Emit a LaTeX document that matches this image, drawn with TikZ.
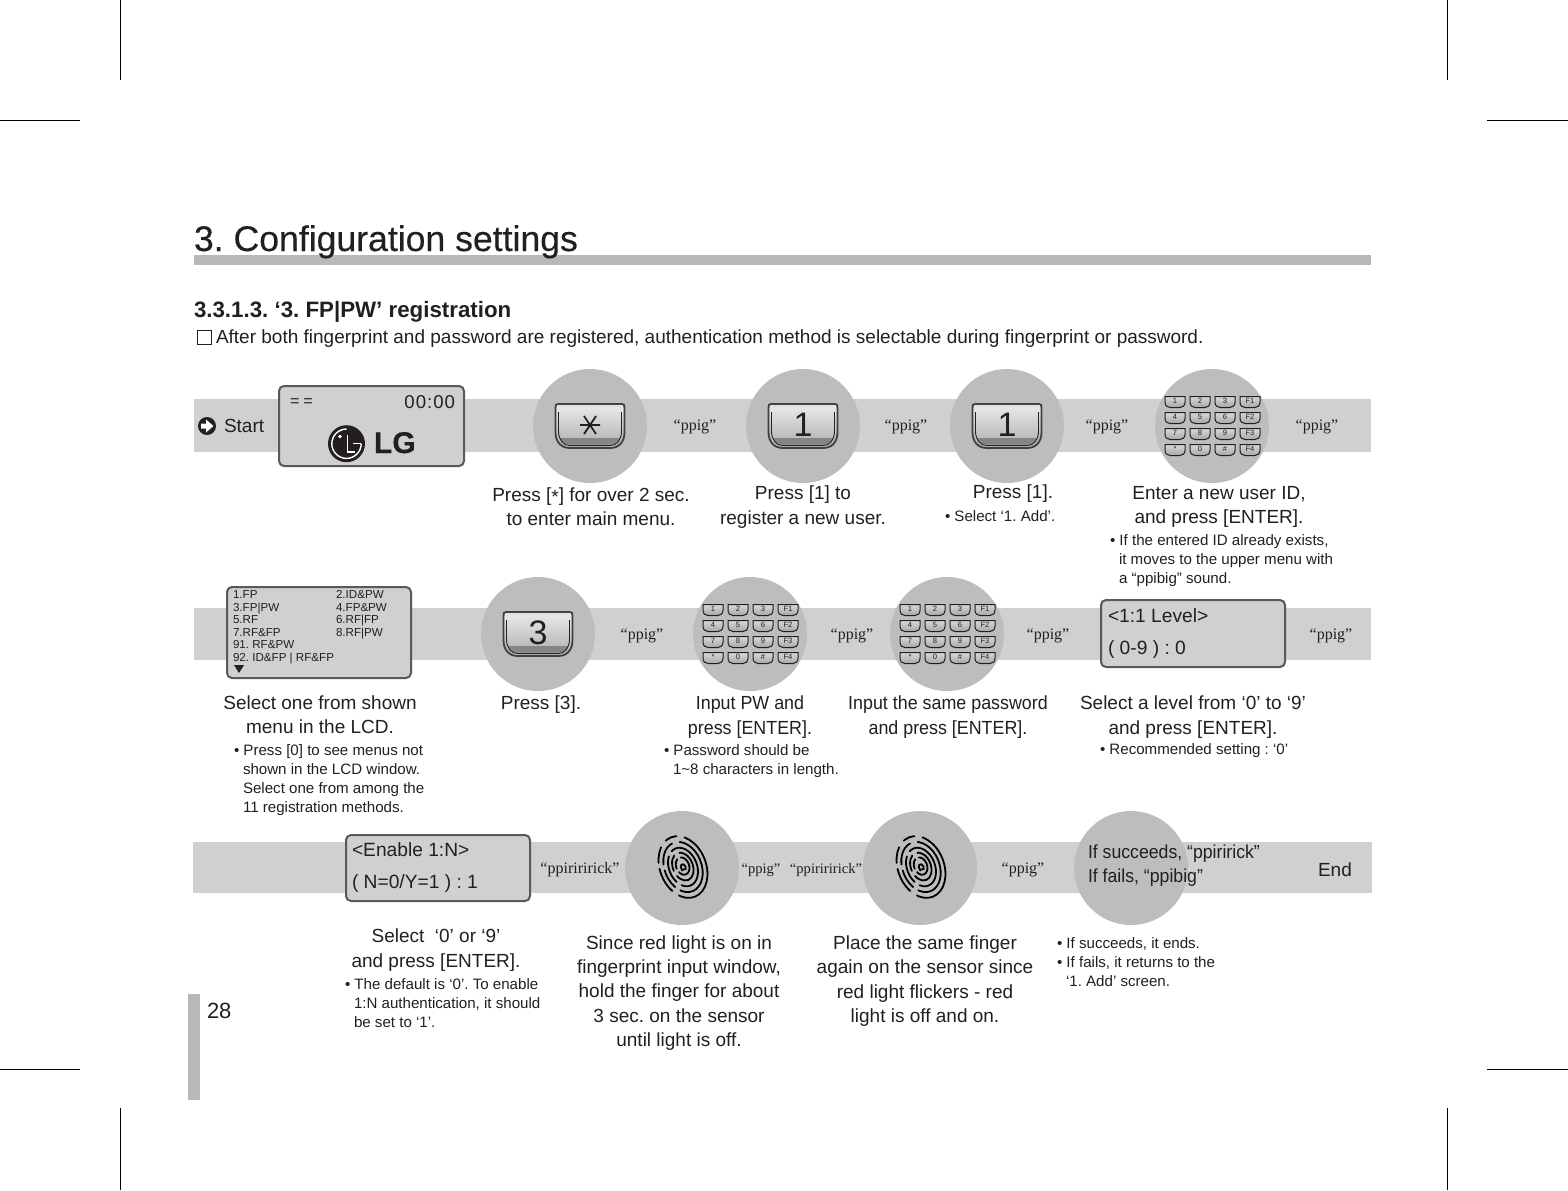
\documentclass[tikz,border=0pt]{standalone}
\usepackage{fontspec}
\setmainfont{Liberation Sans}
\newfontfamily\serifppig{Liberation Serif}
\newfontfamily\titlefont[FakeBold=0.3]{Liberation Sans}
\newfontfamily\condfont[FakeStretch=0.94]{Liberation Sans}
\newfontfamily\lgfont[BoldFeatures={FakeBold=0.5}]{Liberation Sans}
\definecolor{band}{HTML}{CFD0D2}
\definecolor{disc}{HTML}{BCBDBF}
\definecolor{titlebar}{HTML}{B7B8BA}
\definecolor{ink}{HTML}{231F20}
\definecolor{framec}{HTML}{58595B}
\tikzset{
  every node/.style={inner sep=0pt,outer sep=0pt,text=ink},
  bandrect/.style={fill=band,draw=none},
  discc/.style={fill=disc,draw=none},
  lcd/.style={fill=band,draw=framec,line width=1pt,rounded corners=2.5pt},
  crop/.style={draw=black,line width=0.4pt},
  main/.style={font=\fontsize{9.5}{12.1}\selectfont,align=center},
  mainc/.style={font=\condfont\fontsize{9.5}{12.1}\selectfont,align=center},
  mainl/.style={font=\condfont\fontsize{9.4}{12}\selectfont,align=left,anchor=west},
  small/.style={font=\fontsize{7.55}{9.5}\selectfont,align=left,anchor=west},
  lcdtxt/.style={font=\fontsize{5.8}{6.2}\selectfont,anchor=base west},
  lcdbig/.style={font=\fontsize{9.6}{12}\selectfont,anchor=west},
  ppig/.style={font=\serifppig\fontsize{8}{10}\selectfont},
  ppigs/.style={font=\serifppig\fontsize{7.3}{10}\selectfont},
  ridge/.style={draw=black,line width=0.9pt,line cap=round},
}
\newcommand{\keybody}{
    \draw[draw=black!75,line width=0.9pt,top color=black!8,bottom color=black!32]
      (-32,-22) -- (32,-22) .. controls (34,-22) and (34.5,-21) .. (34.5,-18) -- (34.5,6)
      .. controls (34.5,16) and (29,22) .. (20,22) -- (-20,22)
      .. controls (-29,22) and (-34.5,16) .. (-34.5,6) -- (-34.5,-18)
      .. controls (-34.5,-21) and (-34,-22) .. (-32,-22) -- cycle;
    \draw[draw=white!85!black,line width=0.5pt] (-31,-20) -- (31,-20);
    \fill[black!48] (-30,12) -- (30,12) .. controls (28,16) and (25,18.5) .. (20,18.5) -- (-20,18.5)
      .. controls (-25,18.5) and (-28,16) .. (-30,12) -- cycle;
    \draw[draw=ink,line width=0.45pt] (-31.5,-14) -- (-31.5,6) .. controls (-31,14) and (-27,19.5) .. (-20,19.5) -- (20,19.5) .. controls (27,19.5) and (31,14) .. (31.5,6) -- (31.5,-14);
}
\newcommand{\bigkey}[4]{% name,x,y,label
  \begin{scope}[shift={(#2,#3)}]
    \keybody
    \node (#1) at (0,-1) {\fontsize{17}{17}\selectfont #4};
  \end{scope}}
\newcommand{\starkey}[3]{% name,x,y
  \begin{scope}[shift={(#2,#3)}]
    \keybody
    \coordinate (#1) at (0,-1);
    \draw[ink,line width=0.9pt] (-10,-1)--(10,-1) (-6,-10)--(6,8) (6,-10)--(-6,8);
  \end{scope}}
\newcommand{\smallkey}[4]{% name,x,y,label
  \begin{scope}[shift={(#2,#3)}]
    \draw[draw=ink,line width=0.5pt,top color=white!85!black,bottom color=black!35]
      (-10,-5.5) -- (10,-5.5) -- (10,0) .. controls (10,3.5) and (8,5.5) .. (5,5.5) -- (-5,5.5) .. controls (-8,5.5) and (-10,3.5) .. (-10,0) -- cycle;
    \node[font=\fontsize{3.8}{4}\selectfont,anchor=base] (#1) at (0,1.5) {#4};
  \end{scope}}
\newcommand{\keypadat}[3]{% prefix,x,y
  \smallkey{#1a}{#2-37}{#3-24}{1}\smallkey{#1b}{#2-12}{#3-24}{2}\smallkey{#1c}{#2+13}{#3-24}{3}\smallkey{#1d}{#2+38}{#3-24}{F1}
  \smallkey{#1e}{#2-37}{#3-8}{4}\smallkey{#1f}{#2-12}{#3-8}{5}\smallkey{#1g}{#2+13}{#3-8}{6}\smallkey{#1h}{#2+38}{#3-8}{F2}
  \smallkey{#1i}{#2-37}{#3+8}{7}\smallkey{#1j}{#2-12}{#3+8}{8}\smallkey{#1k}{#2+13}{#3+8}{9}\smallkey{#1l}{#2+38}{#3+8}{F3}
  \smallkey{#1m}{#2-37}{#3+24}{*}\smallkey{#1n}{#2-12}{#3+24}{0}\smallkey{#1o}{#2+13}{#3+24}{\#}\smallkey{#1p}{#2+38}{#3+24}{F4}}
\newcommand{\fingerat}[2]{%
  \begin{scope}[shift={(#1,#2)},rotate=22]
    \draw[ridge,dash pattern=on 30pt off 4pt on 13pt off 3pt on 8pt off 4pt on 6pt off 4pt] (0,0) ellipse [x radius=23,y radius=32];
    \draw[ridge,dash pattern=on 24pt off 3pt on 10pt off 3pt on 12pt off 4pt] (0,0) ellipse [x radius=18.5,y radius=26];
    \draw[ridge,dash pattern=on 18pt off 3pt on 14pt off 3pt] (0,0) ellipse [x radius=14,y radius=20];
    \draw[ridge,dash pattern=on 16pt off 3pt on 8pt off 3pt] (0,-0.5) ellipse [x radius=10,y radius=14.5];
    \draw[ridge,dash pattern=on 10pt off 2pt on 5pt off 2pt] (0,-1) ellipse [x radius=6.5,y radius=9];
    \draw[ridge] (-2,3) .. controls (-3.5,-3) and (1.5,-5) .. (2.5,0) .. controls (3,2.5) and (1,4) .. (-0.5,2.5);
  \end{scope}}
\begin{document}
\frenchspacing
\begin{tikzpicture}[x=0.5pt,y=-0.5pt]
\useasboundingbox (0,0) rectangle (1568,1190);
\fill[white] (0,0) rectangle (1568,1190);
% crop marks
\draw[crop] (120,0)--(120,80);\draw[crop] (1447,0)--(1447,80);
\draw[crop] (120,1108)--(120,1190);\draw[crop] (1447,1108)--(1447,1190);
\draw[crop] (0,120)--(80,120);\draw[crop] (1487,120)--(1568,120);
\draw[crop] (0,1069)--(80,1069);\draw[crop] (1487,1069)--(1568,1069);
% header
\fill[titlebar] (194,255) rectangle (1371,265);
\node[anchor=base west,font=\titlefont\fontsize{17.8}{20}\selectfont] (title) at (194,251) {3. Configuration settings};
\node[anchor=base west,font=\bfseries\fontsize{11.15}{14}\selectfont] (sub) at (194,317) {3.3.1.3. ‘3. FP|PW’ registration};
\draw[draw=ink,line width=0.4pt] (197,330) rectangle (211,344);
\node[anchor=base west,font=\fontsize{9.5}{12}\selectfont] (intro) at (216,343) {After both fingerprint and password are registered, authentication method is selectable during fingerprint or password.};
% page number
\fill[titlebar] (188,994) rectangle (200,1100);
\node[anchor=base west,font=\fontsize{11}{13}\selectfont] (page) at (207,1018) {28};
% bands
\fill[bandrect] (194,399) rectangle (1371,452);
\fill[bandrect] (194,608) rectangle (1371,660);
\fill[bandrect] (193,842) rectangle (1372,893);
% discs
\foreach \x/\y in {590/426,803/426,1007/426,1212/426,538/634,750/634,947/634,682/868,920/868,1131/868}
  \fill[discc] (\x,\y) circle [radius=57];
% row 1
\fill[ink] (207,426) circle [radius=9];
\fill[white] (201,423.5) -- (206,423.5) -- (206,419.5) -- (213.5,426) -- (206,432.5) -- (206,428.5) -- (201,428.5) -- cycle;
\node[anchor=base west,font=\fontsize{9.5}{12}\selectfont] (start) at (224,432) {Start};
\draw[lcd] (279,386) rectangle (464,466);
\node[anchor=base west,font=\fontsize{8}{11}\selectfont] (eq) at (290,406) {=\kern2pt=};
\node[anchor=base east,font=\fontsize{9.3}{11}\selectfont,text=ink] (clock) at (455,408) {0\kern0.5pt0\kern0.5pt:\kern0.5pt0\kern0.5pt0};
\fill[ink] (346.5,443.7) circle [radius=18.5];
\draw[white,line width=0.7pt] (347.5,435) -- (347.5,452) -- (355,452);
\fill[white] (340,436.5) circle [radius=1.9];
\draw[white,line width=0.7pt] (346.5,429) arc [start angle=-90,end angle=-360,radius=14.7];
\draw[white,line width=0.7pt] (353,443.7) -- (361.2,443.7);
\node[anchor=base west,font=\lgfont\bfseries\fontsize{15}{16}\selectfont] (lg) at (374,453) {LG};
\starkey{kstar}{590}{426}
\bigkey{kone}{803}{426}{1}
\bigkey{kone2}{1007}{426}{1}
\keypadat{pa}{1212}{426}
\node[ppig] (p1) at (695,427) {“ppig”};
\node[ppig] (p2) at (906,427) {“ppig”};
\node[ppig] (p3) at (1107,427) {“ppig”};
\node[ppig] (p4) at (1317,427) {“ppig”};
\node[main] (t1) at (591,507) {Press [\raisebox{-1pt}{*}] for over 2 sec.\\to enter main menu.};
\node[main] (t2) at (803,507) {Press [1] to\\register a new user.};
\node[main] (t3) at (1013,494) {Press [1].};
\node[small] (s3) at (945,516) {• Select ‘1. Add’.};
\node[main] (t4) at (1219,507) {Enter a new user ID,\\and press [ENTER].};
\node[small] (s4) at (1110,561) {• If the entered ID already exists,\\\hspace*{4.5pt}it moves to the upper menu with\\\hspace*{4.5pt}a “ppibig” sound.};
% row 2
\draw[lcd] (227,587) rectangle (411,678);
\node[lcdtxt] (m1) at (233,598) {1.FP};
\node[lcdtxt] (m2) at (336,598) {2.ID\&PW};
\node[lcdtxt] (m3) at (233,611) {3.FP|PW};
\node[lcdtxt] (m4) at (336,611) {4.FP\&PW};
\node[lcdtxt] (m5) at (233,623) {5.RF};
\node[lcdtxt] (m6) at (336,623) {6.RF|FP};
\node[lcdtxt] (m7) at (233,636) {7.RF\&FP};
\node[lcdtxt] (m8) at (336,636) {8.RF|PW};
\node[lcdtxt] (m9) at (233,648) {91. RF\&PW};
\node[lcdtxt] (m10) at (233,661) {92. ID\&FP | RF\&FP};
\fill[ink] (234,665) -- (244,665) -- (239,673) -- cycle;
\bigkey{kthree}{538}{634}{3}
\keypadat{pb}{750}{634}
\keypadat{pc}{947}{634}
\draw[lcd] (1101,600) rectangle (1285,667);
\node[lcdbig] (l1) at (1108,616) {<1:1 Level>};
\node[lcdbig] (l2) at (1108,650) {( 0-9 ) : 0};
\node[ppig] (p5) at (642,636) {“ppig”};
\node[ppig] (p6) at (852,636) {“ppig”};
\node[ppig] (p7) at (1048,636) {“ppig”};
\node[ppig] (p8) at (1331,636) {“ppig”};
\node[main] (t5) at (320,715) {Select one from shown\\menu in the LCD.};
\node[small] (s5) at (234,780) {• Press [0] to see menus not\\\hspace*{4.5pt}shown in the LCD window.\\\hspace*{4.5pt}Select one from among the\\\hspace*{4.5pt}11 registration methods.};
\node[main] (t6) at (541,705) {Press [3].};
\node[mainc] (t7) at (750,717) {Input PW and\\press [ENTER].};
\node[small] (s7) at (664,761) {• Password should be\\\hspace*{4.5pt}1\textasciitilde 8 characters in length.};
\node[mainc] (t8) at (948,717) {Input the same password\\and press [ENTER].};
\node[main] (t9) at (1193,717) {Select a level from ‘0’ to ‘9’\\and press [ENTER].};
\node[small] (s9) at (1100,751) {• Recommended setting : ‘0’};
% row 3
\draw[lcd] (346,835) rectangle (530,901);
\node[lcdbig] (l3) at (352,850) {<Enable 1:N>};
\node[lcdbig] (l4) at (352,884) {( N=0/Y=1 ) : 1};
\fingerat{683}{867}
\fingerat{921}{867}
\node[ppig] (p9) at (580,870) {“ppiriririck”};
\node[ppigs] (p10) at (761,870) {“ppig”};
\node[ppigs] (p11) at (826,870) {“ppiriririck”};
\node[ppig] (p12) at (1023,870) {“ppig”};
\node[mainl] (res) at (1088,866) {If succeeds, “ppiririck”\\If fails, “ppibig”};
\node[anchor=base west,font=\fontsize{9.5}{12}\selectfont] (endt) at (1318,876) {End};
\node[main] (t10) at (436,950) {Select\ \ ‘0’ or ‘9’\\and press [ENTER].};
\node[small] (s10) at (345,1003) {• The default is ‘0’. To enable\\\hspace*{4.5pt}1:N authentication, it should\\\hspace*{4.5pt}be set to ‘1’.};
\node[main] (t11) at (679,993) {Since red light is on in\\fingerprint input window,\\hold the finger for about\\3 sec. on the sensor\\until light is off.};
\node[main] (t12) at (925,981) {Place the same finger\\again on the sensor since\\red light flickers - red\\light is off and on.};
\node[small] (s12) at (1057,962) {• If succeeds, it ends.\\• If fails, it returns to the\\\hspace*{4.5pt}‘1. Add’ screen.};
\end{tikzpicture}
\end{document}
